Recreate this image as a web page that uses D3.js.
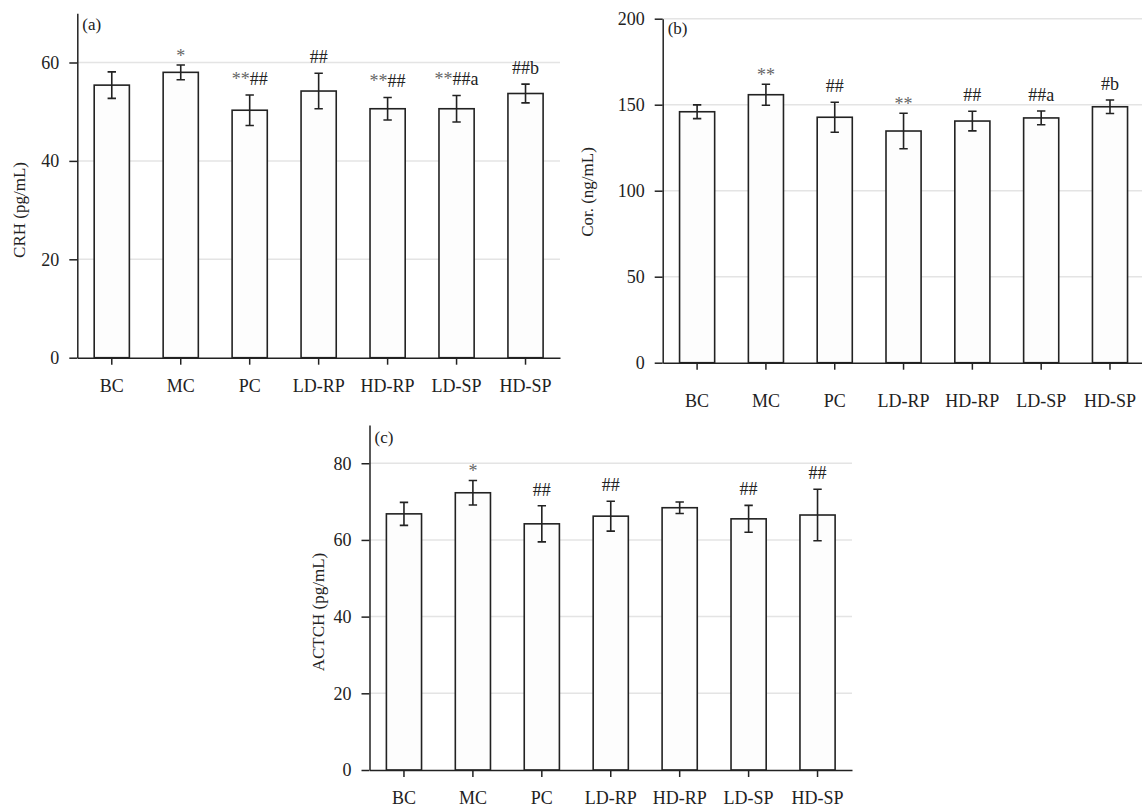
<!DOCTYPE html>
<html>
<head>
<meta charset="utf-8">
<script src="https://cdn.jsdelivr.net/npm/d3@7"></script>
<style>
  body { margin: 0; background: #fff; }
  svg text { font-family: "Liberation Serif", "Times New Roman", serif; }
  .grid line { stroke: #e4e4e4; stroke-width: 1.5; }
  .axis path, .axis line { stroke: #222; stroke-width: 1.5; }
  .axis text { fill: #222; font-size: 18px; }
  .bar { fill: #fdfdfd; stroke: #222; stroke-width: 1.6; }
  .err { stroke: #222; stroke-width: 1.6; fill: none; }
</style>
</head>
<body>
<div id="plot"></div>
<script>
// groups on the x axis (same for all three panels)
const groups = ["BC", "MC", "PC", "LD-RP", "HD-RP", "LD-SP", "HD-SP"];

// (a) CRH
const crhMean = [55.4, 58.0, 50.3, 54.2, 50.6, 50.6, 53.7];
const crhErr = [2.7, 1.5, 3.1, 3.6, 2.3, 2.7, 1.9];
const crhMarks = ["", "*", "**##", "##", "**##", "**##a", "##b"];
const crhTicks = [0, 20, 40, 60];

// (b) Cor.
const corMean = [145.9, 155.8, 142.7, 134.7, 140.5, 142.3, 148.8];
const corErr = [4.0, 6.1, 8.7, 10.3, 5.7, 4.0, 3.9];
const corMarks = ["", "**", "##", "**", "##", "##a", "#b"];
const corTicks = [0, 50, 100, 150, 200];

// (c) ACTCH
const actchMean = [66.8, 72.3, 64.2, 66.2, 68.4, 65.5, 66.5];
const actchErr = [3.0, 3.2, 4.7, 3.9, 1.5, 3.5, 6.7];
const actchMarks = ["", "*", "##", "##", "", "##", "##"];
const actchTicks = [0, 20, 40, 60, 80];

const width = 1142, height = 807;

let svg = d3.select("#plot")
  .append("svg")
  .attr("width", width)
  .attr("height", height);

// one panel = one bar chart with error bars
function drawPanel(p) {
  const g = svg.append("g");

  const x = d3.scaleBand()
    .domain(groups)
    .range([p.left, p.right])
    .paddingInner(0.49)
    .paddingOuter(0.245);

  const y = d3.scaleLinear()
    .domain(p.domain)
    .range([p.bottom, p.top]);

  // light horizontal grid
  g.append("g").attr("class", "grid")
    .selectAll("line")
    .data(p.ticks.filter(d => d > 0))
    .enter().append("line")
    .attr("x1", p.left).attr("x2", p.right)
    .attr("y1", d => y(d)).attr("y2", d => y(d));

  const rows = groups.map((k, i) => ({ k: k, v: p.mean[i], e: p.err[i], m: p.marks[i] }));

  g.selectAll("rect")
    .data(rows)
    .enter().append("rect")
    .attr("class", "bar")
    .attr("x", d => x(d.k))
    .attr("y", d => y(d.v))
    .attr("width", x.bandwidth())
    .attr("height", d => y(0) - y(d.v));

  // error bars
  const cap = 4.2;
  const eb = g.selectAll(".eb").data(rows).enter().append("g").attr("class", "eb");
  eb.append("path")
    .attr("class", "err")
    .attr("d", d => {
      const cx = x(d.k) + x.bandwidth() / 2;
      const y1 = y(d.v + d.e), y0 = y(d.v - d.e);
      return "M" + (cx - cap) + "," + y1 + "H" + (cx + cap)
        + "M" + cx + "," + y1 + "V" + y0
        + "M" + (cx - cap) + "," + y0 + "H" + (cx + cap);
    });

  // significance marks
  const lab = eb.filter(d => d.m !== "")
    .append("text")
    .attr("x", d => x(d.k) + x.bandwidth() / 2)
    .attr("y", d => y(d.v + d.e) - (/^\*+$/.test(d.m) ? 3 : 10))
    .attr("text-anchor", "middle")
    .style("font-size", "18px");
  lab.each(function(d) {
    const t = d3.select(this);
    d.m.match(/\*+|[^*]+/g).forEach(part => {
      t.append("tspan")
        .attr("fill", part[0] === "*" ? "#666" : "#222")
        .text(part);
    });
  });

  // axes
  g.append("g").attr("class", "axis")
    .attr("transform", "translate(0," + p.bottom + ")")
    .call(d3.axisBottom(x).tickSizeInner(7).tickSizeOuter(0).tickPadding(p.xPad));

  g.append("g").attr("class", "axis")
    .attr("transform", "translate(" + p.left + ",0)")
    .call(d3.axisLeft(y).tickValues(p.ticks).tickSizeInner(8).tickSizeOuter(0).tickPadding(10));

  // panel letter
  g.append("text")
    .attr("x", p.left + 5)
    .attr("y", p.letterY)
    .style("font-size", "17px")
    .attr("fill", "#222")
    .text(p.letter);

  // y axis title
  g.append("text")
    .attr("transform", "translate(" + p.titleX + "," + p.titleY + ") rotate(-90)")
    .attr("text-anchor", "middle")
    .attr("dy", "0.35em")
    .style("font-size", "17px")
    .attr("fill", "#222")
    .text(p.title);
}

drawPanel({
  mean: crhMean, err: crhErr, marks: crhMarks, ticks: crhTicks,
  domain: [0, 70], left: 77.3, right: 560, top: 13.3, bottom: 357.7,
  xPad: 15, letter: "(a)", letterY: 30, title: "CRH (pg/mL)", titleX: 19, titleY: 210
});

drawPanel({
  mean: corMean, err: corErr, marks: corMarks, ticks: corTicks,
  domain: [0, 200], left: 662.7, right: 1144.4, top: 18.7, bottom: 362.7,
  xPad: 25, letter: "(b)", letterY: 34, title: "Cor. (ng/mL)", titleX: 587, titleY: 192
});

drawPanel({
  mean: actchMean, err: actchErr, marks: actchMarks, ticks: actchTicks,
  domain: [0, 90], left: 369.5, right: 852, top: 424.9, bottom: 770,
  xPad: 14, letter: "(c)", letterY: 442.5, title: "ACTCH (pg/mL)", titleX: 318, titleY: 612
});
</script>
</body>
</html>
